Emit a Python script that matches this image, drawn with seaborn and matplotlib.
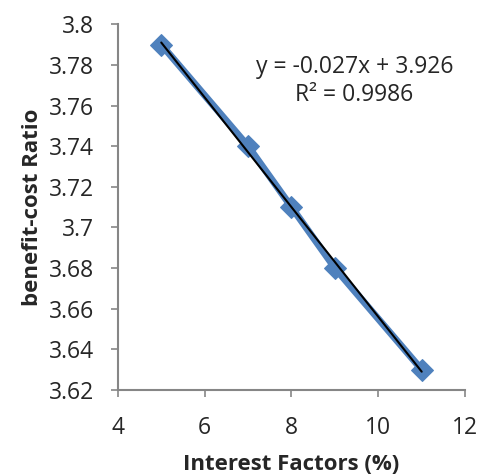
import numpy as np
import pandas as pd
import matplotlib
matplotlib.use('Agg')
import matplotlib.pyplot as plt
import seaborn as sns
from matplotlib.ticker import FuncFormatter

# data
interest = [5, 7, 8, 9, 11]
ratio = [3.79, 3.74, 3.71, 3.68, 3.63]
xticks = [4, 6, 8, 10, 12]
yticks = [3.62, 3.64, 3.66, 3.68, 3.70, 3.72, 3.74, 3.76, 3.78, 3.80]

df = pd.DataFrame({'x': interest, 'y': ratio})

sns.set_style('white')
plt.rcParams['font.family'] = ['Open Sans', 'DejaVu Sans']

fig = plt.figure(figsize=(4.79, 4.75), dpi=100)
ax = fig.add_axes([0.246, 0.179, 0.725, 0.770])

blue = '#4F81BD'
sns.lineplot(data=df, x='x', y='y', ax=ax, color=blue, lw=5,
             marker='D', markersize=11, markeredgecolor=blue, zorder=2)
sns.regplot(data=df, x='x', y='y', ax=ax, scatter=False, ci=None,
            line_kws={'color': 'black', 'lw': 1.5, 'zorder': 3})

# trendline equation
slope, icpt = np.polyfit(interest, ratio, 1)
pred = np.polyval([slope, icpt], interest)
r2 = 1 - np.sum((np.array(ratio) - pred) ** 2) / np.sum((np.array(ratio) - np.mean(ratio)) ** 2)
ax.text(9.45, 3.772, 'y = %.3fx + %.3f\nR² = %.4f' % (slope, icpt, r2),
        ha='center', va='center', fontsize=16.5, linespacing=1.25)

ax.set_xlim(4, 12)
ax.set_ylim(3.62, 3.80)
ax.set_xticks(xticks)
ax.set_yticks(yticks)
ax.yaxis.set_major_formatter(FuncFormatter(lambda v, p: '%g' % round(v, 2)))
ax.tick_params(axis='both', direction='out', length=5, width=1.2,
               color='#868686', labelsize=16.5, bottom=True, left=True)
ax.tick_params(axis='x', pad=14)
ax.tick_params(axis='y', pad=12)

for s in ['top', 'right']:
    ax.spines[s].set_visible(False)
for s in ['left', 'bottom']:
    ax.spines[s].set_color('#868686')
    ax.spines[s].set_linewidth(1.5)

ax.set_xlabel('Interest Factors (%)', fontsize=16, fontweight='bold', labelpad=10)
ax.set_ylabel('benefit-cost Ratio', fontsize=16, fontweight='bold', labelpad=4)

fig.savefig('out.png', dpi=100)
